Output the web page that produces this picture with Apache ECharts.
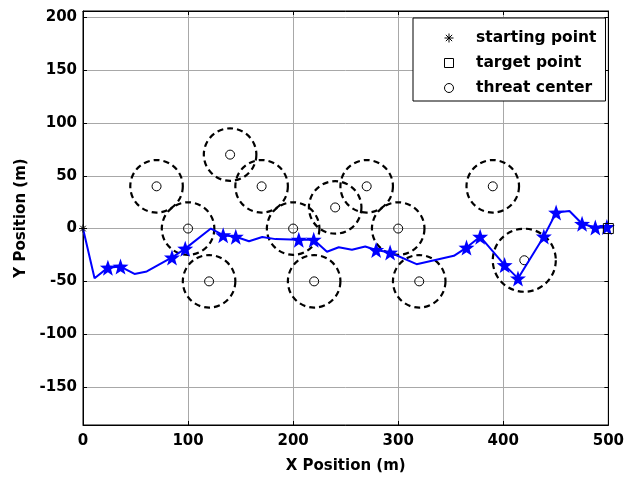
<!DOCTYPE html>
<html>
<head>
<meta charset="utf-8">
<script src="https://cdn.jsdelivr.net/npm/echarts@6/dist/echarts.min.js"></script>
<style>
  html, body { margin: 0; padding: 0; background: #fff; }
  #chart { width: 627px; height: 479px; }
</style>
</head>
<body>
<div id="chart"></div>
<script>
// threat circles: center x, center y, radius
const threatX = [70, 100, 120, 140, 170, 200, 220, 240, 270, 300, 320, 390, 420]
const threatY = [40, 0, -50, 70, 40, 0, -50, 20, 40, 0, -50, 40, -30]
const threatR = [25, 25, 25, 25, 25, 25, 25, 25, 25, 25, 25, 25, 30]

// planned path, star = 1 marks a waypoint drawn with a pentagram
const pathX = [0, 11, 23.7, 35.7, 49, 60.7, 84.7, 97.3, 121.7, 133.4, 145.4, 158, 170.6, 183.3, 205.4, 219.6,
  232.2, 243.4, 256, 268.6, 279, 292.3, 317.5, 353, 365, 378, 401.3, 414, 438.6, 450.3, 463, 475, 487.6, 498.6, 500]
const pathY = [0, -47, -37, -36, -43, -40.6, -27.4, -19, 0, -6.3, -7.7, -12, -8, -10, -10.5, -10.5,
  -22, -17.7, -20, -17, -20.3, -22.7, -33.7, -25.8, -18, -7.7, -34.6, -47.2, -7.5, 15.1, 16.6, 4.5, 1, 1.5, 0]
const pathStar = [0, 0, 1, 1, 0, 0, 1, 1, 0, 1, 1, 0, 0, 0, 1, 1,
  0, 0, 0, 0, 1, 1, 0, 0, 1, 1, 1, 1, 1, 1, 0, 1, 1, 1, 0]

const startPoint = [0, 0]
const targetPoint = [500, 0]

const yTicks = [-150, -100, -50, 0, 50, 100, 150, 200]

const starPath = 'path://M0,-10L2.35,-3.24L9.51,-3.09L3.8,1.24L5.88,8.09L0,4.2L-5.88,8.09L-3.8,1.24L-9.51,-3.09L-2.35,-3.24Z'
const asteriskPath = 'path://M0,-5L0,5M-5,0L5,0M-3.5,-3.5L3.5,3.5M-3.5,3.5L3.5,-3.5'
const squarePath = 'path://M0,0L10,0L10,10L0,10Z'
const font = 'DejaVu Sans'

const chart = echarts.init(document.getElementById('chart'))

const circleData = threatX.map((x, i) => [x, threatY[i], threatR[i]])
const pathData = pathX.map((x, i) => ({
  value: [x, pathY[i]],
  symbol: pathStar[i] ? starPath : 'none'
}))

const axisLabel = { color: '#000', fontFamily: font, fontWeight: 'bold', fontSize: 15 }
const nameStyle = { color: '#000', fontFamily: font, fontWeight: 'bold', fontSize: 15 }

chart.setOption({
  animation: false,
  backgroundColor: '#fff',
  grid: { left: 83, right: 16, top: 11, bottom: 53, show: true, borderColor: '#000', borderWidth: 1 },
  legend: {
    orient: 'vertical',
    left: 413,
    top: 18,
    padding: [12, 9, 5, 31],
    itemWidth: 44,
    itemHeight: 9,
    itemGap: 9,
    backgroundColor: '#fff',
    borderColor: '#000',
    borderWidth: 1,
    borderRadius: 0,
    textStyle: { color: '#000', fontFamily: font, fontWeight: 'bold', fontSize: 15.5 },
    itemStyle: { color: 'transparent', borderColor: '#000', borderWidth: 1 },
    data: [
      { name: 'starting point', icon: asteriskPath },
      { name: 'target point', icon: squarePath },
      { name: 'threat center', icon: 'circle' }
    ]
  },
  xAxis: [
    {
      type: 'value', min: 0, max: 500, interval: 100,
      axisLine: { onZero: false, lineStyle: { color: '#000' } },
      axisTick: { inside: true, length: 4, lineStyle: { color: '#000' } },
      axisLabel: Object.assign({ margin: 9 }, axisLabel),
      splitLine: { show: true, lineStyle: { color: '#a8a8a8', width: 1 } },
      name: 'X Position (m)', nameLocation: 'middle', nameGap: 34,
      nameTextStyle: nameStyle
    },
    {
      type: 'value', min: 0, max: 500, interval: 100, position: 'top',
      axisLine: { onZero: false, lineStyle: { color: '#000' } },
      axisTick: { inside: true, length: 4, lineStyle: { color: '#000' } },
      axisLabel: { show: false }, splitLine: { show: false }
    }
  ],
  yAxis: [
    {
      type: 'value', min: -186, max: 206,
      axisLine: { onZero: false, lineStyle: { color: '#000' } },
      axisTick: { inside: true, length: 4, customValues: yTicks, lineStyle: { color: '#000' } },
      axisLabel: Object.assign({ margin: 6, customValues: yTicks }, axisLabel),
      splitLine: { show: true, lineStyle: { color: '#a8a8a8', width: 1 } },
      name: 'Y Position (m)', nameLocation: 'middle', nameGap: 54, nameRotate: 90,
      nameTextStyle: nameStyle
    },
    {
      type: 'value', min: -186, max: 206, position: 'right',
      axisLine: { onZero: false, lineStyle: { color: '#000' } },
      axisTick: { inside: true, length: 4, customValues: yTicks, lineStyle: { color: '#000' } },
      axisLabel: { show: false }, splitLine: { show: false }
    }
  ],
  series: [
    {
      name: 'threat circle',
      type: 'custom',
      clip: false,
      data: circleData,
      renderItem(params, api) {
        const c = api.coord([api.value(0), api.value(1)])
        const r = api.size([api.value(2), 0])[0]
        return {
          type: 'circle',
          shape: { cx: c[0], cy: c[1], r },
          style: { fill: 'none', stroke: '#000', lineWidth: 2.2, lineDash: [6, 4] }
        }
      },
      z: 2
    },
    {
      name: 'threat center',
      type: 'scatter',
      symbol: 'circle',
      symbolSize: 9,
      data: circleData.map(d => [d[0], d[1]]),
      itemStyle: { color: 'transparent', borderColor: '#000', borderWidth: 1, opacity: 1 },
      z: 3
    },
    {
      name: 'path',
      type: 'line',
      data: pathData,
      symbolSize: 16,
      showAllSymbol: true,
      lineStyle: { color: '#0000ff', width: 2 },
      itemStyle: { color: '#0000ff', borderWidth: 0 },
      z: 4
    },
    {
      name: 'starting point',
      type: 'scatter',
      symbol: asteriskPath,
      symbolSize: 8,
      data: [startPoint],
      itemStyle: { color: 'transparent', borderColor: '#000', borderWidth: 1, opacity: 1 },
      z: 5
    },
    {
      name: 'target point',
      type: 'scatter',
      symbol: squarePath,
      symbolSize: 10,
      data: [targetPoint],
      itemStyle: { color: 'transparent', borderColor: '#000', borderWidth: 1, opacity: 1 },
      z: 5
    }
  ]
})
</script>
</body>
</html>
